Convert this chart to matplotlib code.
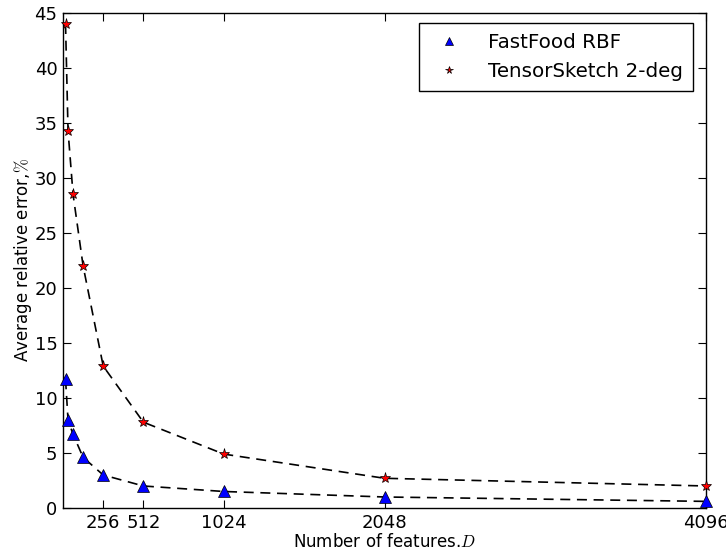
import matplotlib
matplotlib.use("Agg")
import matplotlib.pyplot as plt

features = [16, 32, 64, 128, 256, 512, 1024, 2048, 4096]
fastfood_rbf = [11.7, 8.0, 6.7, 4.6, 3.0, 2.0, 1.5, 1.0, 0.6]
tensorsketch_2deg = [44.0, 34.3, 28.5, 22.0, 12.9, 7.8, 4.9, 2.7, 2.0]
xtick_values = [256, 512, 1024, 2048, 4096]

plt.rcParams['font.family'] = ['DejaVu Sans']
plt.rcParams['mathtext.fontset'] = 'cm'

fig = plt.figure(figsize=(7.26, 5.53), dpi=100)
ax = fig.add_axes([0.0868, 0.0814, 0.8857, 0.8951])

ax.plot(features, fastfood_rbf, 'k--', lw=1.2, dashes=(6, 4), zorder=2)
ax.plot(features, tensorsketch_2deg, 'k--', lw=1.2, dashes=(6, 4), zorder=2)
ax.plot(features, fastfood_rbf, linestyle='none', marker='^', ms=8.5,
        mfc='blue', mec='black', mew=0.5, label='FastFood RBF', zorder=3,
        clip_on=False)
ax.plot(features, tensorsketch_2deg, linestyle='none', marker='*', ms=8,
        mfc='red', mec='black', mew=0.5, label='TensorSketch 2-deg', zorder=3,
        clip_on=False)

ax.set_xlim(0, 4096)
ax.set_ylim(0, 45)
ax.set_xticks(xtick_values)
ax.set_yticks(range(0, 46, 5))
ax.tick_params(direction='in', top=True, right=True, length=6, labelsize=13,
               pad=4)
for s in ax.spines.values():
    s.set_linewidth(1.0)

ax.set_xlabel(r'Number of features.$D$', fontsize=12, labelpad=1)
ax.set_ylabel(r'Average relative error,$\%$', fontsize=12, labelpad=0)

leg = ax.legend(loc='upper right', numpoints=1, fontsize=14.3, fancybox=False,
                edgecolor='black', framealpha=1, borderpad=0.5,
                handletextpad=1.0, markerscale=0.7, borderaxespad=0,
                bbox_to_anchor=(0.980, 0.980))
leg.get_frame().set_linewidth(1.0)

fig.savefig('out.png', dpi=100, facecolor='white')
